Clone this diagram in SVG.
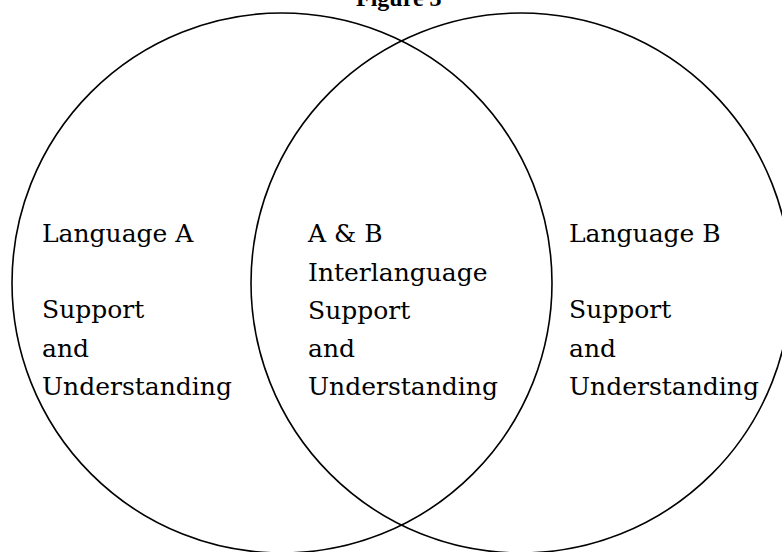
<svg xmlns="http://www.w3.org/2000/svg" width="782" height="552" viewBox="0 0 782 552">
<style>
.c{fill:none;stroke:#000;stroke-width:1.6}
.t{font-family:"DejaVu Serif","Liberation Serif",serif;font-size:25px;fill:#000}
.title{font-family:"Liberation Serif",serif;font-size:24px;font-weight:bold;fill:#000}
</style>
<rect width="782" height="552" fill="#fff"/>
<text class="title" x="356" y="6">Figure 3</text>
<g id="languageA">
<circle class="c" cx="282" cy="283" r="270"/>
<text class="t" x="42" y="242">Language A</text>
<text class="t" x="42" y="318">Support</text>
<text class="t" x="42" y="357">and</text>
<text class="t" x="42" y="395">Understanding</text>
</g>
<g id="languageB">
<circle class="c" cx="521" cy="283" r="270"/>
<text class="t" x="569" y="242">Language B</text>
<text class="t" x="569" y="318">Support</text>
<text class="t" x="569" y="357">and</text>
<text class="t" x="569" y="395">Understanding</text>
</g>
<g id="interlanguage">
<text class="t" x="308" y="242">A &amp; B</text>
<text class="t" x="308" y="281">Interlanguage</text>
<text class="t" x="308" y="319">Support</text>
<text class="t" x="308" y="357">and</text>
<text class="t" x="308" y="395">Understanding</text>
</g>
<g id="connectors"/>
</svg>
